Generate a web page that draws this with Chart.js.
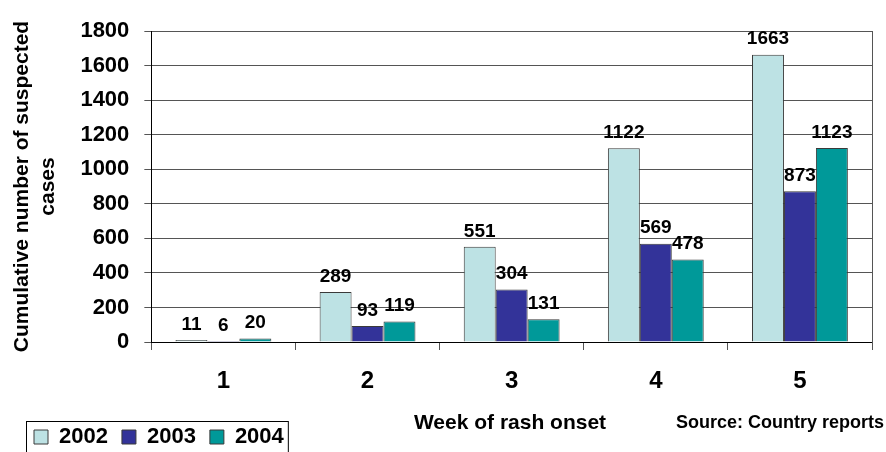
<!DOCTYPE html>
<html lang="en">
<head>
    <meta charset="UTF-8">
    <title>Cumulative number of suspected cases by week of rash onset</title>
    <script src="https://cdn.jsdelivr.net/npm/chart.js"></script>
    <style>
        html, body {
            margin: 0;
            padding: 0;
            background: #ffffff;
        }
        .chart-container {
            width: 886px;
            height: 452px;
        }
    </style>
</head>
<body>

<div class="chart-container">
    <canvas id="myChart"></canvas>
</div>

<script>
    // Data
    const weeks = ['1', '2', '3', '4', '5'];
    const years = ['2002', '2003', '2004'];
    const cases2002 = [11, 289, 551, 1122, 1663];
    const cases2003 = [6, 93, 304, 569, 873];
    const cases2004 = [20, 119, 131, 478, 1123];
    const yearColors = ['#bde2e4', '#333399', '#009999'];

    const FONT = 'Arial, "Liberation Sans", sans-serif';

    // value labels above the bars
    const valueLabels = {
        id: 'valueLabels',
        afterDatasetsDraw(chart) {
            const ctx = chart.ctx;
            ctx.save();
            ctx.font = 'bold 19px ' + FONT;
            ctx.fillStyle = '#000';
            ctx.textAlign = 'center';
            ctx.textBaseline = 'bottom';
            chart.data.datasets.forEach((ds, i) => {
                chart.getDatasetMeta(i).data.forEach((bar, j) => {
                    ctx.fillText(ds.data[j], bar.x, bar.y - 6);
                });
            });
            ctx.restore();
        }
    };

    // right border of the plot, legend frame, axis title and source note
    const extras = {
        id: 'extras',
        afterLayout(chart) {
            // move legend items so the first swatch sits at x=34
            const shift = 34 - (chart.legend.left + 14);
            chart.legend.left += shift;
            chart.legend.right += shift;
        },
        afterDraw(chart) {
            const ctx = chart.ctx;
            const area = chart.chartArea;
            ctx.save();
            ctx.strokeStyle = '#555';
            ctx.lineWidth = 1;
            ctx.beginPath();
            ctx.moveTo(area.right + 0.5, area.top);
            ctx.lineTo(area.right + 0.5, area.bottom + 8);
            ctx.stroke();

            const lg = chart.legend;
            const boxes = lg.legendHitBoxes;
            if (boxes && boxes.length) {
                const first = boxes[0];
                const last = boxes[boxes.length - 1];
                const x0 = first.left - 8;
                const x1 = last.left + last.width + 4;
                ctx.strokeStyle = '#000';
                ctx.strokeRect(x0 + 0.5, lg.top + 9.5, x1 - x0, 40);
            }

            const y = chart.height - 29;
            ctx.fillStyle = '#000';
            ctx.textBaseline = 'middle';
            ctx.textAlign = 'center';
            ctx.font = 'bold 21px ' + FONT;
            ctx.fillText('Week of rash onset', 510, y);
            ctx.font = 'bold 18px ' + FONT;
            ctx.fillText('Source: Country reports', 780, y);
            ctx.restore();
        }
    };

    const datasets = years.map((y, i) => ({
        label: y,
        data: [cases2002, cases2003, cases2004][i],
        backgroundColor: yearColors[i],
        borderColor: '#3a3a3a',
        borderWidth: 1,
        categoryPercentage: 0.665,
        barPercentage: 1.0
    }));

    const ctx = document.getElementById('myChart').getContext('2d');
    const myChart = new Chart(ctx, {
        type: 'bar',
        data: {
            labels: weeks,
            datasets: datasets
        },
        plugins: [valueLabels, extras],
        options: {
            responsive: true,
            maintainAspectRatio: false,
            animation: false,
            layout: {
                padding: { top: 31, right: 14, left: 8, bottom: -6 }
            },
            scales: {
                y: {
                    min: 0,
                    max: 1800,
                    ticks: {
                        stepSize: 200,
                        color: '#000',
                        padding: 15,
                        font: { family: FONT, size: 22, weight: 'bold' },
                        callback: v => String(v)
                    },
                    grid: {
                        color: '#555',
                        tickLength: 7
                    },
                    border: { color: '#000', width: 1 },
                    title: {
                        display: true,
                        text: ['Cumulative number of suspected', 'cases'],
                        color: '#000',
                        font: { family: FONT, size: 21, weight: 'bold', lineHeight: 1.2 },
                        padding: { top: 2, bottom: 5 }
                    }
                },
                x: {
                    ticks: {
                        color: '#000',
                        padding: 17,
                        font: { family: FONT, size: 24, weight: 'bold' }
                    },
                    grid: {
                        offset: true,
                        drawOnChartArea: false,
                        color: '#555',
                        tickLength: 8
                    },
                    border: { color: '#000', width: 1 },
                    afterFit(scale) {
                        scale.height = 70;
                    }
                }
            },
            plugins: {
                legend: {
                    position: 'bottom',
                    align: 'start',
                    labels: {
                        color: '#000',
                        boxWidth: 14,
                        boxHeight: 14,
                        padding: 14,
                        font: { family: FONT, size: 22, weight: 'bold' }
                    }
                },
                tooltip: { enabled: false }
            }
        }
    });
</script>

</body>
</html>
